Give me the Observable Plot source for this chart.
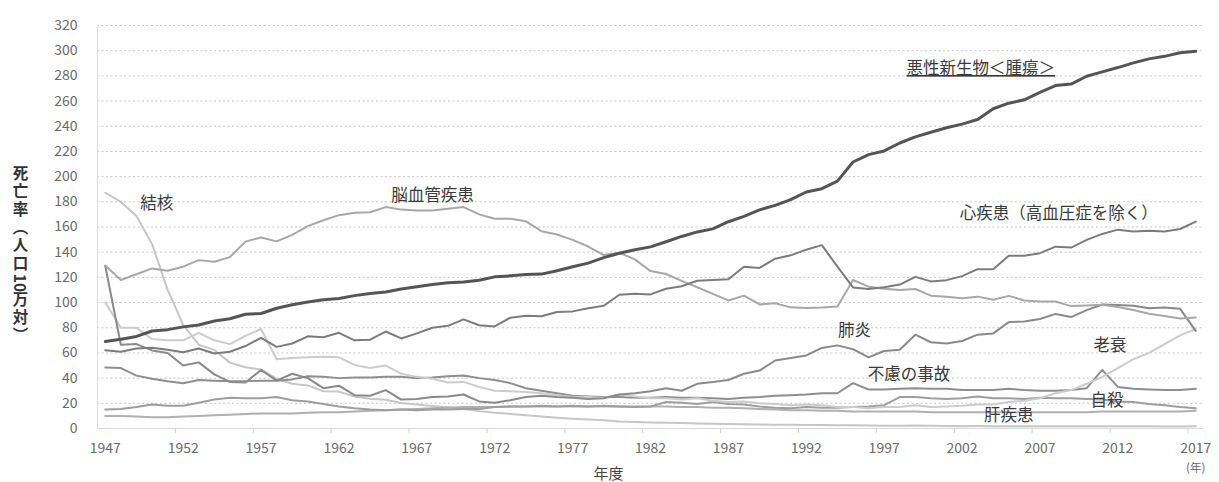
<!DOCTYPE html>
<html><head><meta charset="utf-8">
<script src="https://cdn.jsdelivr.net/npm/d3@7"></script>
<script src="https://cdn.jsdelivr.net/npm/@observablehq/plot@0.6"></script>
<style>
html,body{margin:0;padding:0;background:#fff;}
#chart svg{display:block;}
.ytitle text{writing-mode:vertical-rl;text-orientation:mixed;letter-spacing:2.5px;}
.ytitle tspan.tcy{text-combine-upright:all;letter-spacing:0;}
</style></head><body><div id="chart"></div>
<script>
// ---- data (死亡率, 人口10万対) ----
const years = d3.range(1947, 2018);
const tickYears = [1947,1952,1957,1962,1967,1972,1977,1982,1987,1992,1997,2002,2007,2012,2017];
const yTicks = [0,20,40,60,80,100,120,140,160,180,200,220,240,260,280,300,320];

const malignant = [
  69.0,70.8,73.1,77.4,78.5,80.7,82.2,85.3,87.1,90.7,
  91.3,95.5,98.2,100.4,102.3,103.2,105.5,107.2,108.4,110.8,
  112.5,114.4,115.8,116.3,117.7,120.4,121.2,122.2,122.6,125.3,
  128.4,131.3,135.7,139.1,142.0,144.2,148.3,152.5,156.1,158.5,
  164.2,168.4,173.6,177.2,181.7,187.8,190.4,196.4,211.6,217.5,
  220.4,226.7,231.6,235.2,238.8,241.7,245.4,253.9,258.3,261.0,
  266.9,272.3,273.5,279.7,283.2,286.6,290.3,293.5,295.5,298.3,
  299.5];
const heart = [
  62.2,61.0,63.5,64.2,62.5,60.5,63.5,59.5,60.9,65.5,
  72.0,64.8,67.5,73.2,72.5,76.0,70.0,70.5,77.0,71.5,
  75.5,80.0,81.5,86.7,82.0,81.0,88.0,89.5,89.2,92.5,
  93.0,95.5,97.5,106.2,107.0,106.5,111.0,113.0,117.3,117.9,
  118.5,128.5,127.5,134.8,137.5,142.0,145.6,128.6,112.0,110.8,
  112.2,114.3,120.4,116.8,117.8,121.0,126.5,126.5,137.2,137.2,
  139.2,144.4,143.7,149.8,154.5,157.9,156.5,157.0,156.5,158.4,
  164.3];
const cerebro = [
  129.4,117.9,122.5,127.1,125.2,128.5,133.7,132.4,136.1,148.4,
  151.7,148.6,153.7,160.7,165.4,169.4,171.4,171.7,175.8,173.8,
  173.1,173.1,174.4,175.8,170.0,166.6,166.6,164.5,156.7,154.0,
  149.8,144.5,137.7,139.5,134.3,125.0,122.7,117.2,112.2,106.9,
  101.7,105.5,98.5,99.4,96.2,95.6,96.0,96.9,117.9,112.6,
  111.0,110.0,110.8,105.5,104.7,103.4,104.7,102.3,105.3,101.7,
  100.8,100.9,97.2,97.7,98.2,96.5,94.1,91.1,89.4,87.4,
  88.2];
const pneumonia = [
  129.0,66.5,67.0,62.0,60.0,50.0,52.5,43.0,37.0,36.5,
  46.5,38.0,43.5,40.0,32.0,34.0,26.5,26.0,30.5,23.0,
  23.5,25.0,25.5,27.0,21.5,20.5,22.5,25.0,26.0,25.0,
  24.5,23.5,24.0,27.0,28.0,29.5,32.0,30.0,35.5,37.0,
  38.5,43.5,46.0,54.0,56.0,58.0,64.0,66.0,63.0,56.5,
  61.5,62.5,74.5,68.5,67.5,69.5,74.5,75.5,84.5,85.0,
  87.0,91.0,88.5,94.0,98.5,98.0,97.5,95.5,96.0,95.0,
  77.5];
const senility = [
  100.0,80.0,80.0,71.0,70.0,70.0,76.0,70.0,67.0,73.5,
  79.0,55.0,56.0,56.5,57.0,56.5,50.5,48.0,50.0,43.5,
  41.0,39.5,36.5,37.0,33.0,30.0,29.5,29.0,28.0,26.5,
  25.0,25.0,24.5,27.0,25.5,24.0,24.0,23.0,24.0,22.0,
  21.0,21.5,20.0,19.5,18.5,19.0,18.5,17.0,17.0,16.0,
  17.0,17.0,18.5,17.0,17.5,18.0,19.0,19.0,21.0,22.0,
  24.0,28.0,30.5,35.5,41.0,48.0,55.0,60.0,67.0,74.0,
  79.0];
const accident = [
  48.5,48.0,42.0,39.5,37.5,36.0,38.5,38.0,37.5,37.5,
  38.0,38.0,39.0,41.5,41.0,40.0,40.5,40.5,41.0,41.0,
  40.0,40.5,41.5,42.0,40.0,38.5,36.0,32.0,30.0,28.0,
  26.0,25.5,25.0,25.0,24.5,24.5,25.0,24.5,24.5,24.0,
  23.5,24.5,25.0,26.0,26.5,27.0,28.0,28.0,36.0,31.0,
  31.0,31.5,32.0,31.5,31.5,30.5,30.5,30.5,31.5,30.5,
  30.0,30.0,30.5,32.0,46.5,33.0,31.5,31.0,30.5,30.5,
  31.5];
const suicide = [
  15.0,15.5,17.0,19.0,18.0,18.0,20.5,23.0,24.5,24.0,
  24.0,25.0,22.5,21.5,19.5,17.5,16.0,15.0,14.5,15.0,
  14.5,15.0,15.0,15.5,15.5,17.0,17.5,17.5,18.0,17.5,
  18.0,17.5,18.0,17.5,17.0,17.5,21.0,20.5,19.5,21.0,
  19.5,19.0,17.5,16.5,16.0,17.0,16.5,16.5,17.0,17.5,
  18.5,25.0,25.0,24.0,23.5,24.0,25.5,24.0,24.0,23.5,
  24.5,24.0,24.0,23.5,23.0,21.5,21.0,19.5,18.5,17.0,
  16.0];
const liver = [
  10.0,10.0,9.5,9.0,9.0,9.5,10.0,10.5,11.0,11.5,
  12.0,12.0,12.0,12.5,13.0,13.0,13.5,14.0,14.5,15.0,
  15.5,16.0,16.5,17.0,17.0,17.0,17.5,17.5,17.5,17.5,
  17.5,17.5,17.5,17.5,17.5,17.5,17.5,17.0,17.0,16.5,
  16.5,16.0,15.5,15.0,14.5,14.5,14.0,14.0,13.5,13.5,
  13.5,13.5,13.5,13.0,13.0,13.0,13.0,13.0,13.0,13.0,
  13.0,13.0,13.0,13.0,13.5,13.5,13.5,13.5,13.5,13.5,
  14.0];
const tuberculosis = [
  187.2,179.9,168.8,146.4,110.3,82.2,66.5,62.4,52.3,48.6,
  46.9,39.4,35.5,34.2,29.6,29.3,25.4,23.6,22.8,20.3,
  19.0,17.8,16.8,15.4,13.8,12.6,11.6,10.6,9.5,8.6,
  7.8,7.2,6.6,5.5,5.2,4.8,4.6,4.4,4.0,3.8,
  3.5,3.3,3.1,3.0,2.9,2.8,2.7,2.6,2.6,2.3,
  2.2,2.2,2.3,2.1,2.0,1.8,1.9,1.8,1.8,1.8,
  1.7,1.8,1.7,1.7,1.7,1.7,1.7,1.7,1.5,1.5,
  1.8];

const causes = ["結核","肝疾患","自殺","不慮の事故","老衰","肺炎","脳血管疾患","心疾患（高血圧症を除く）","悪性新生物＜腫瘍＞"];
const causeValues = [tuberculosis, liver, suicide, accident, senility, pneumonia, cerebro, heart, malignant];
const yTitleParts = ["死亡率（人口", "10", "万対）"];

// ---- styles ----
const lineColors = ["#c6c6c6","#b0b0b0","#9e9e9e","#8e8e8e","#cccccc","#8a8a8a","#a8a8a8","#7c7c7c","#555555"];
const lineWidths = [2,2,2,2,2,2,2,2,3];

// label anchors (year, rate) for the direct labels
const labelYear = [1950.3, 2005.0, 2011.3, 1998.6, 2011.5, 1995.1, 1968.0, 2008.2, 2003.2];
const labelRate = [178.5, 10.0, 22.0, 42.6, 65.7, 77.6, 184.7, 170.5, 285.7];
const underlined = "悪性新生物＜腫瘍＞";

const table = causes.flatMap((c, i) => years.map((yr, j) => ({cause: c, year: yr, rate: causeValues[i][j]})));
const labels = causes.map((c, i) => ({text: c, year: labelYear[i], rate: labelRate[i]}));
const boundaries = tickYears.slice(1).map(y => y - 0.5);

const FONT = "'Noto Sans CJK JP', 'Noto Sans', sans-serif";

const chart = Plot.plot({
  width: 1219,
  height: 482,
  marginLeft: 97,
  marginRight: 16,
  marginTop: 25,
  marginBottom: 54,
  style: {fontFamily: FONT, background: "#fff"},
  x: {domain: [1946.5, 2017.5]},
  y: {domain: [0, 320]},
  marks: [
    Plot.gridY(yTicks.slice(1), {stroke: "#c8c8c8", strokeOpacity: 1, strokeDasharray: "2,2.5"}),
    Plot.ruleY([0], {stroke: "#d9d9d9"}),
    Plot.ruleX([1946.5], {stroke: "#e0e0e0"}),
    Plot.axisY(yTicks, {tickSize: 0, tickPadding: 20, fontSize: 14, fill: "#6a6a6a", label: null}),
    Plot.axisX(tickYears, {tickSize: 0, tickPadding: 15, fontSize: 14, fill: "#6a6a6a", label: null, tickFormat: d => String(d)}),
    Plot.axisX(boundaries, {tickSize: 5, stroke: "#d0d0d0", tickFormat: () => "", label: null}),
    ...causes.map((c, i) => Plot.line(table.filter(d => d.cause === c), {
      x: "year", y: "rate", stroke: lineColors[i], strokeWidth: lineWidths[i], curve: "linear"
    })),
    Plot.text(labels, {
      x: "year", y: "rate", text: "text", fontSize: 16.5, fill: "#3a3a3a",
      textAnchor: "middle", fontFamily: FONT
    }),
    Plot.text([yTitleParts.join("")], {
      frameAnchor: "left", dx: -77, dy: 24, fontSize: 15.5, fontWeight: "bold",
      fill: "#333", textAnchor: "middle", fontFamily: FONT, className: "ytitle"
    }),
    Plot.text(["年度"], {frameAnchor: "bottom", dx: -42, dy: 50, fontSize: 15, fill: "#444", textAnchor: "middle", fontFamily: FONT}),
    Plot.text(["(年)"], {x: [2017], frameAnchor: "bottom", dy: 43, fontSize: 11.5, fill: "#666", textAnchor: "middle", fontFamily: FONT})
  ]
});
const svg = d3.select(chart);
svg.selectAll("text")
  .filter(function() { return this.textContent === underlined; })
  .style("text-decoration", "underline");
// vertical y-axis title with "10" set upright-combined
svg.selectAll(".ytitle text").each(function() {
  const t = d3.select(this);
  t.text(null).attr("dy", null).attr("dx", null);
  yTitleParts.forEach((p, i) => {
    t.append("tspan").attr("class", i === 1 ? "tcy" : null).text(p);
  });
});
document.getElementById("chart").append(chart);
</script>
</body></html>
